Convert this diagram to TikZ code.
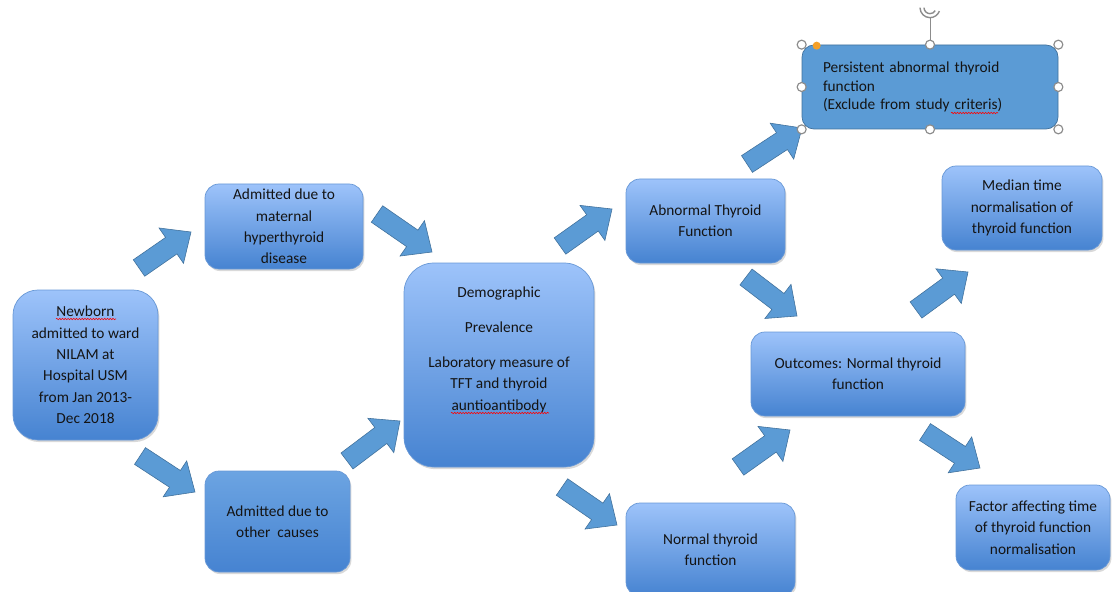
\documentclass[tikz,border=0pt]{standalone}
\usepackage{fontspec}
\setmainfont{Carlito}
\usetikzlibrary{positioning, calc, shadows, decorations.pathmorphing}

\definecolor{boxtop}{RGB}{157,195,250}
\definecolor{boxbottom}{RGB}{70,131,209}
\definecolor{othertop}{RGB}{108,164,226}
\definecolor{boxline}{RGB}{104,152,214}
\definecolor{arrowfill}{RGB}{91,155,213}
\definecolor{arrowline}{RGB}{65,113,156}
\definecolor{handlegray}{RGB}{140,140,140}
\definecolor{handleorange}{RGB}{245,160,40}
\definecolor{textdark}{RGB}{20,20,20}

\def\pxu{0.03cm}

% fat block arrow: name, tail, tip
\newcommand\fatarrow[3]{%
  \coordinate (#1-t) at #2;
  \coordinate (#1-h) at #3;
  \coordinate (#1-b) at ($(#1-h)!0.72cm!(#1-t)$);
  \draw[blockarrow] ($(#1-t)!0.3cm!90:(#1-h)$) -- ($(#1-b)!0.3cm!90:(#1-h)$)
    -- ($(#1-b)!0.645cm!90:(#1-h)$) -- (#1-h) -- ($(#1-b)!0.645cm!-90:(#1-h)$)
    -- ($(#1-b)!0.3cm!-90:(#1-h)$) -- ($(#1-t)!0.3cm!-90:(#1-h)$) -- cycle;
}

\begin{document}
\begin{tikzpicture}[
    x=\pxu, y=-\pxu,
    font=\fontsize{13.1}{18.2}\selectfont, text=textdark,
    every node/.style={align=center, inner sep=1pt},
    flowbox/.style={draw=boxline, line width=0.6pt, rounded corners=14*\pxu,
      top color=boxtop, bottom color=boxbottom,
      drop shadow={opacity=0.25, fill=black!60, shadow xshift=1.2pt, shadow yshift=-1.8pt}},
    persistbox/.style={draw=arrowline, line width=0.6pt, rounded corners=12*\pxu, fill=arrowfill,
      align=left, text width=214*\pxu, inner xsep=21*\pxu, minimum height=84*\pxu,
      font=\fontsize{13.1}{15.7}\selectfont},
    blockarrow/.style={draw=arrowline, line width=0.5pt, fill=arrowfill},
    handle/.style={draw=handlegray, line width=1pt, fill=white},
    spell/.style={draw=red, line width=0.5pt, decorate,
      decoration={snake, amplitude=0.6pt, segment length=2.4pt}}
]
\useasboundingbox (0,0) rectangle (1115,592);
\clip (0,0) rectangle (1115,592);

% boxes
\node[flowbox, rounded corners=25*\pxu, minimum width=145*\pxu, minimum height=150*\pxu]
  (newborn) at (85.5,365) {Newborn\\admitted to ward\\NILAM at\\Hospital USM\\from Jan 2013-\\Dec 2018};
\node[flowbox, minimum width=158*\pxu, minimum height=85*\pxu]
  (maternal) at (284,226.5) {Admitted due to\\maternal\\hyperthyroid\\disease};
\node[flowbox, top color=othertop, minimum width=145*\pxu, minimum height=101*\pxu]
  (other) at (277.5,521.5) {Admitted due to\\other\ \ causes};
\node[flowbox, rounded corners=30*\pxu, minimum width=190*\pxu, minimum height=204*\pxu]
  (demo) at (499,365) {Demographic\\[11.6pt]Prevalence\\[11.6pt]Laboratory measure of\\TFT and thyroid\\auntioantibody\\[10pt]\mbox{}};
\node[flowbox, minimum width=159*\pxu, minimum height=84*\pxu]
  (abnormal) at (705.5,221) {Abnormal Thyroid\\Function};
\node[flowbox, minimum width=169*\pxu, minimum height=93*\pxu]
  (normal) at (710.5,549.5) {Normal thyroid\\function};
\node[flowbox, minimum width=214*\pxu, minimum height=84*\pxu]
  (outcomes) at (858,374) {Outcomes: Normal thyroid\\function};
\node[flowbox, minimum width=160*\pxu, minimum height=84*\pxu]
  (median) at (1022,208) {Median time\\normalisation of\\thyroid function};
\node[flowbox, minimum width=154*\pxu, minimum height=85*\pxu]
  (factor) at (1033,527.5) {Factor affecting time\\of thyroid function\\normalisation};
\node[persistbox] (persistent) at (930,87) {Persistent abnormal thyroid\\function\\(Exclude from study criteris)};

% arrows
\fatarrow{a1}{(139,268)}{(191,232)}
\fatarrow{a2}{(377,214)}{(432,252)}
\fatarrow{a3}{(140,456)}{(195,492)}
\fatarrow{a4}{(347,461)}{(400,421)}
\fatarrow{a5}{(560,246)}{(612,209)}
\fatarrow{a6}{(562,487)}{(617,525)}
\fatarrow{a7}{(747,164)}{(802,128)}
\fatarrow{a8}{(746,277)}{(797,316)}
\fatarrow{a9}{(738,467)}{(790,430)}
\fatarrow{a10}{(916,310)}{(968,272)}
\fatarrow{a11}{(925,432)}{(980,468)}

% spell check marks
\draw[spell] (56,319) -- (116,319);
\draw[spell] (451,413) -- (549,413);
\draw[spell] (951,113) -- (998,113);

% selection handles
\draw[handlegray, line width=0.8pt] (persistent.north) -- ++(0,-27) coordinate (rot);
\draw[handlegray, line width=1.2pt] ($(rot)+(-10,-10)$) arc[start angle=180, end angle=20, radius=10];
\draw[handlegray, line width=1.2pt] ($(rot)+(-6,-10)$) arc[start angle=180, end angle=30, radius=6];
\foreach \a in {north west, north, north east, west, east, south west, south, south east}
  \draw[handle] (persistent.\a) circle[radius=4.5];
\fill[handleorange] ($(persistent.north west)+(15,1)$) circle[radius=4];
\end{tikzpicture}
\end{document}
